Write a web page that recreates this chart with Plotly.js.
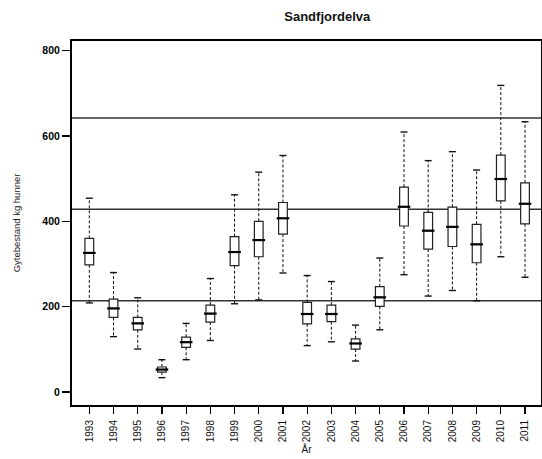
<!DOCTYPE html>
<html>
<head>
<meta charset="utf-8">
<script src="https://cdn.plot.ly/plotly-3.0.1.min.js"></script>
<style>html,body{margin:0;padding:0;background:#fff;}#chart{width:542px;height:459px;}</style>
</head>
<body>
<div id="chart"></div>
<script>
// Data
const years = ["1993","1994","1995","1996","1997","1998","1999","2000","2001","2002","2003","2004","2005","2006","2007","2008","2009","2010","2011"];
const lowerWhisker = [209, 130, 101, 34, 76, 121, 207, 216, 279, 109, 118, 73, 146, 275, 225, 238, 214, 317, 269];
const q1Values     = [298, 175, 146, 47, 105, 164, 296, 317, 370, 160, 165, 101, 201, 389, 335, 341, 303, 448, 394];
const medianValues = [326, 196, 161, 53, 117, 184, 328, 356, 407, 183, 183, 114, 222, 434, 378, 387, 346, 499, 441];
const q3Values     = [360, 218, 175, 59, 129, 204, 364, 400, 444, 210, 204, 125, 247, 480, 421, 433, 393, 555, 490];
const upperWhisker = [454, 280, 221, 76, 161, 266, 462, 515, 554, 273, 259, 157, 314, 609, 542, 563, 520, 718, 633];
const refLines = [214, 428, 642];
const yTicks = [0, 200, 400, 600, 800];

// Build whisker segments from the arrays
const wx = [], wy = [];
years.forEach((yr, i) => {
  wx.push(yr, yr, null, yr, yr, null);
  wy.push(q3Values[i], upperWhisker[i], null, q1Values[i], lowerWhisker[i], null);
});
const capX = years.concat(years);
const capY = upperWhisker.concat(lowerWhisker);

const traces = [
  {
    type: 'scatter', mode: 'lines', x: wx, y: wy,
    line: {color: '#111', width: 1, dash: '3px,2px'},
    hoverinfo: 'skip', showlegend: false, connectgaps: false
  },
  {
    type: 'scatter', mode: 'markers', x: capX, y: capY,
    marker: {symbol: 'line-ew', size: 5, line: {color: '#111', width: 1.4}},
    hoverinfo: 'skip', showlegend: false
  },
  {
    type: 'box', x: years, q1: q1Values, median: medianValues, q3: q3Values,
    lowerfence: q1Values, upperfence: q3Values,
    boxpoints: false, whiskerwidth: 0, width: 0.36,
    fillcolor: '#ffffff', line: {color: '#222', width: 1.2},
    hoverinfo: 'skip', showlegend: false
  },
  {
    type: 'scatter', mode: 'markers', x: years, y: medianValues,
    marker: {symbol: 'line-ew', size: 9, line: {color: '#000', width: 2.2}},
    hoverinfo: 'skip', showlegend: false
  }
];

const shapes = refLines.map(v => ({
  type: 'line', xref: 'paper', yref: 'y', x0: 0, x1: 1, y0: v, y1: v,
  line: {color: '#333', width: 1.5}, layer: 'below'
}));

const layout = {
  width: 542, height: 459,
  margin: {l: 72, r: 1, t: 41, b: 54, pad: 0},
  paper_bgcolor: '#fff', plot_bgcolor: '#fff',
  font: {family: 'Liberation Sans, Arial, sans-serif', color: '#000'},
  title: {text: 'Sandfjordelva', font: {size: 13, weight: 'bold', color: '#111'},
          x: 295/542, xref: 'paper', xanchor: 'center', y: 1 - 16/459, yanchor: 'middle'},
  xaxis: {
    type: 'category', range: [-0.715, 18.66],
    showgrid: false, zeroline: false,
    showline: true, linecolor: '#000', linewidth: 2, mirror: true,
    ticks: 'outside', ticklen: 7, tickwidth: 1.2, tickcolor: '#000',
    ticklabelstandoff: 2,
    tickangle: -90, tickfont: {size: 10, color: '#111'},
    title: {text: 'År', font: {size: 10, color: '#111'}, standoff: 5}
  },
  yaxis: {
    range: [-30, 822], tickvals: yTicks,
    showgrid: false, zeroline: false,
    showline: true, linecolor: '#000', linewidth: 2, mirror: true,
    ticks: 'outside', ticklen: 8, tickwidth: 1.5, tickcolor: '#000',
    tickfont: {size: 10.5, weight: 'bold', color: '#000'},
    title: {text: 'Gytebestand kg hunner', font: {size: 9.5, color: '#222'}, standoff: 20}
  },
  shapes: shapes,
  showlegend: false
};

Plotly.newPlot('chart', traces, layout, {staticPlot: true, displayModeBar: false});
</script>
</body>
</html>
